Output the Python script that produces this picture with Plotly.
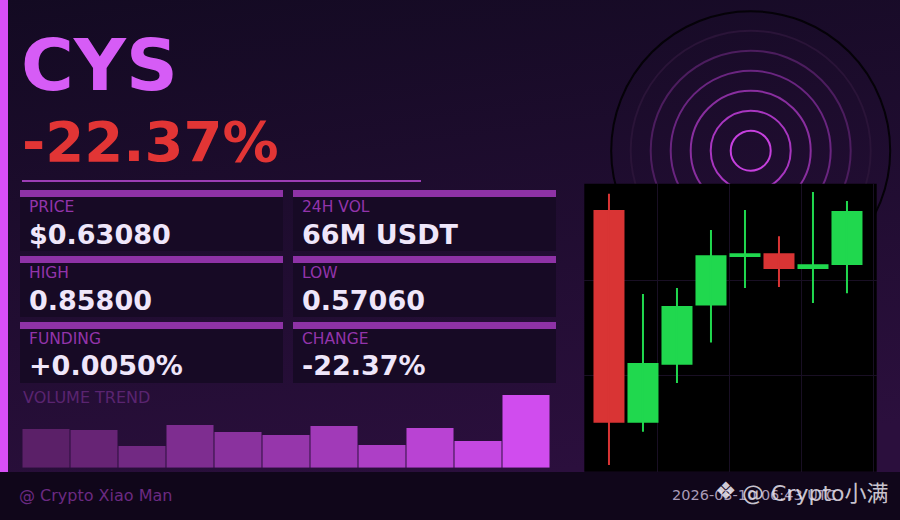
import base64
import plotly.graph_objects as go

W, H = 900, 520

# ---- dados ----
symbol = 'CYS'
change_txt = '-22.37%'
stat_labels = ['PRICE', '24H VOL', 'HIGH', 'LOW', 'FUNDING', 'CHANGE']
stat_values = ['$0.63080', '66M USDT', '0.85800', '0.57060', '+0.0050%', '-22.37%']

volumes = [38.7, 37.7, 21.7, 42.7, 35.7, 32.7, 41.7, 22.7, 39.7, 26.7, 72.7]

c_open = [0.6348, 0.5900, 0.6022, 0.6147, 0.6249, 0.6257, 0.6224, 0.6232]
c_high = [0.6382, 0.6171, 0.6184, 0.6306, 0.6348, 0.6293, 0.6386, 0.6367]
c_low = [0.5811, 0.5881, 0.5984, 0.6069, 0.6184, 0.6186, 0.6152, 0.6173]
c_close = [0.5900, 0.6026, 0.6146, 0.6253, 0.6257, 0.6224, 0.6234, 0.6346]
price_grid = [0.60, 0.62]

footer_left = '@ Crypto Xiao Man'
footer_date = '2026-03-10 06:43 UTC'
watermark = '@ Crypto小满'

# ---- cores ----
BG_TOP, BG_BOT = '#130a22', '#2b0f3d'
ACCENT = '#d84ff7'
TITLE = '#d65cf6'
RED_TXT = '#e23535'
BOX_BODY = '#170a25'
BOX_BAR = '#8e32a6'
LABEL = '#9334ab'
VALUE = '#efe6fa'
UP, DOWN = '#20d84e', '#d93434'
GRID = '#190f24'


def px(x):
    return x / W


def py(y):
    return 1 - y / H


def mix(c1, c2, t):
    a = [int(c1[i:i + 2], 16) for i in (1, 3, 5)]
    b = [int(c2[i:i + 2], 16) for i in (1, 3, 5)]
    return '#' + ''.join('%02x' % round(a[k] + (b[k] - a[k]) * t) for k in range(3))


def rect(x0, y0, x1, y1, color):
    return dict(type='rect', xref='paper', yref='paper', x0=px(x0), x1=px(x1),
                y0=py(y1), y1=py(y0), fillcolor=color, line=dict(width=0), layer='below')


def circle(cx, cy, r, color, width):
    return dict(type='circle', xref='paper', yref='paper', x0=px(cx - r), x1=px(cx + r),
                y0=py(cy + r), y1=py(cy - r), line=dict(color=color, width=width), layer='below')


def txt(x, y, s, size, color, bold=False, anchor='left', family='DejaVu Sans'):
    return dict(x=px(x), y=py(y), xref='paper', yref='paper', text=s, showarrow=False,
                xanchor=anchor, yanchor='middle',
                font=dict(family=family, size=size, color=color,
                          weight='bold' if bold else 'normal'))


# fundo em gradiente (svg embutido)
svg = ('<svg xmlns="http://www.w3.org/2000/svg" width="900" height="520">'
       '<defs><linearGradient id="g" x1="0" y1="0" x2="0.25" y2="1">'
       f'<stop offset="0" stop-color="{BG_TOP}"/><stop offset="1" stop-color="{BG_BOT}"/>'
       '</linearGradient></defs><rect width="900" height="520" fill="url(#g)"/></svg>')
bg_src = 'data:image/svg+xml;base64,' + base64.b64encode(svg.encode()).decode()

fig = go.Figure()

# =============================================================================
# Volume trend
# =============================================================================
n_vol = len(volumes)
fig.add_trace(go.Bar(
    x=list(range(n_vol)), y=volumes, width=0.98,
    marker=dict(color=[mix('#5b2068', '#d04cee', i / (n_vol - 1)) for i in range(n_vol)],
                line=dict(width=0)),
    xaxis='x', yaxis='y', showlegend=False, hoverinfo='skip'
))

# =============================================================================
# Candles
# =============================================================================
idx = list(range(len(c_open)))
cores = [UP if c >= o else DOWN for o, c in zip(c_open, c_close)]
for cor in (UP, DOWN):
    wx, wy = [], []
    for i in idx:
        if cores[i] == cor:
            wx += [i, i, None]
            wy += [c_low[i], c_high[i], None]
    fig.add_trace(go.Scatter(x=wx, y=wy, mode='lines', line=dict(color=cor, width=2),
                             xaxis='x2', yaxis='y2', showlegend=False, hoverinfo='skip'))
fig.add_trace(go.Bar(
    x=idx, base=c_open, y=[c - o for o, c in zip(c_open, c_close)], width=0.912,
    marker=dict(color=cores, line=dict(width=0)),
    xaxis='x2', yaxis='y2', showlegend=False
))

# =============================================================================
# Shapes
# =============================================================================
shapes = []
# circulos concentricos
cx, cy = 750.7, 150.7
for r, cor in [(120, '#2a1438'), (100, '#4c1d5e'), (80, '#6a2580'),
               (60, '#892e9f'), (40, '#a836c0'), (20, '#c640de')]:
    shapes.append(circle(cx, cy, r, cor, 2))
shapes.append(circle(cx, cy, 139.5, '#050208', 2))
# painel dos candles
shapes.append(rect(584.3, 183.7, 876.7, 471.7, '#000000'))
# barra lateral, rodape, linha do titulo
shapes.append(rect(0, 0, 8, 472, ACCENT))
shapes.append(rect(0, 472, 900, 520, '#10061a'))
shapes.append(rect(22, 180, 421, 182, '#9c3db5'))

annotations = [
    txt(19.3, 64.5, symbol, 72, TITLE, bold=True),
    txt(19.6, 141.3, change_txt, 56, RED_TXT, bold=True),
    txt(21, 397, 'VOLUME TREND', 16, '#5a2470'),
    txt(16.8, 495, footer_left, 16, '#6b2a82'),
    txt(670, 494.5, footer_date, 14.5, '#a99bb8'),
    txt(713, 491, '❖', 24, 'rgba(235,230,240,0.9)'),
    txt(740, 493, watermark, 22, 'rgba(235,230,240,0.85)',
        family='DejaVu Sans, Noto Sans CJK SC'),
]

# caixas de estatisticas
cols_x = [(20, 283), (293, 556)]
for k, (lab, val) in enumerate(zip(stat_labels, stat_values)):
    row, col = divmod(k, 2)
    x0, x1 = cols_x[col]
    top = 190 + 66 * row
    shapes.append(rect(x0, top, x1, top + 61, BOX_BODY))
    shapes.append(rect(x0, top, x1, top + 7, BOX_BAR))
    annotations.append(txt(x0 + 6.5, 207 + 66 * row, lab, 15.5, LABEL))
    annotations.append(txt(x0 + 6.5, 234.5 + 65.5 * row, val, 27, VALUE, bold=True))

fig.update_layout(
    width=W, height=H,
    margin=dict(l=0, r=0, t=0, b=0),
    paper_bgcolor=BG_TOP,
    plot_bgcolor='rgba(0,0,0,0)',
    barmode='overlay',
    images=[dict(source=bg_src, xref='paper', yref='paper', x=0, y=1, sizex=1, sizey=1,
                 xanchor='left', yanchor='top', sizing='stretch', layer='below')],
    shapes=shapes,
    annotations=annotations,
    xaxis=dict(domain=[px(22), px(550)], range=[-0.5, n_vol - 0.5], visible=False),
    yaxis=dict(domain=[py(467.7), py(395)], range=[0, max(volumes)], visible=False),
    xaxis2=dict(domain=[px(584.3), px(876.7)], range=[-0.726, 7.874], anchor='y2',
                showgrid=True, gridcolor=GRID, gridwidth=1, tick0=1.42, dtick=2.118,
                showticklabels=False, ticks='', zeroline=False, showline=False),
    yaxis2=dict(domain=[py(471.7), py(183.7)], range=[0.57971, 0.64034], anchor='x2',
                showgrid=True, gridcolor=GRID, gridwidth=1, tickvals=price_grid,
                showticklabels=False, ticks='', zeroline=False, showline=False),
    hovermode=False,
)

# tira a margem padrao do body para a figura ocupar a janela inteira
fig.write_html('out.html', config={'displayModeBar': False},
               post_script="document.body.style.margin='0';")
